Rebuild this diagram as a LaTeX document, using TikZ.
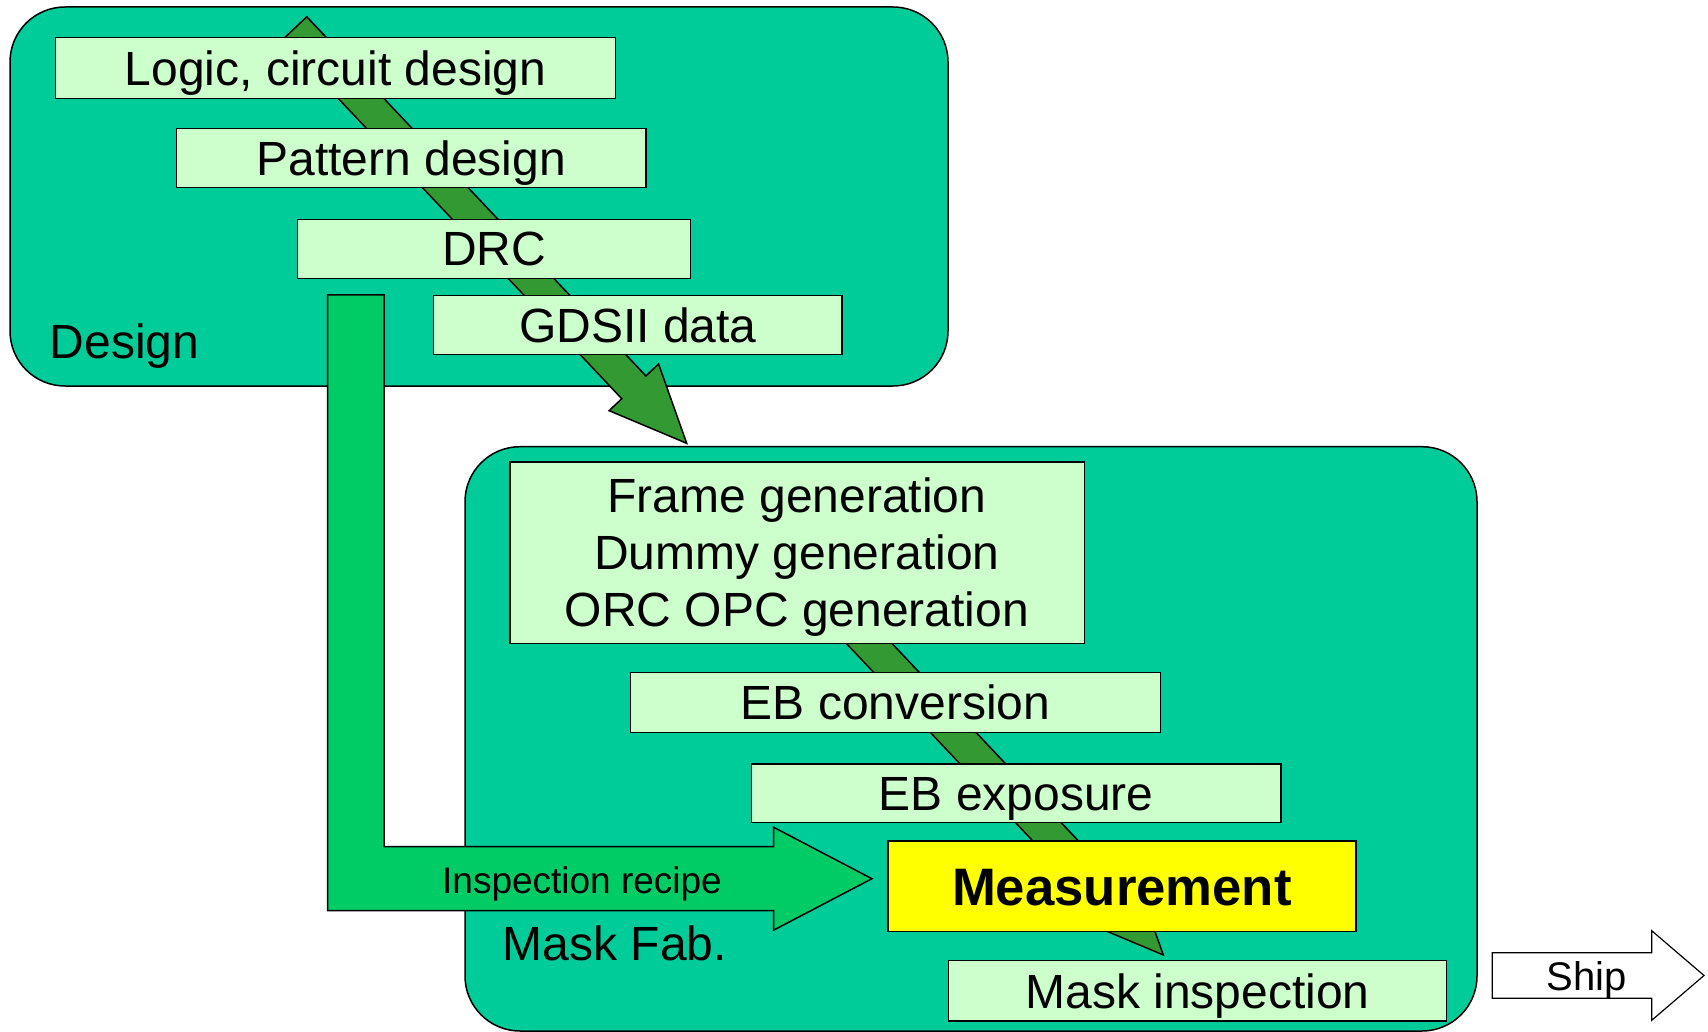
\documentclass[tikz,border=0pt]{standalone}
\usepackage{fontspec}
\setmainfont{Liberation Sans}
\usetikzlibrary{calc}
\definecolor{regionfill}{HTML}{00CC99}
\definecolor{lgreen}{HTML}{CCFFCC}
\definecolor{dgreen}{HTML}{339933}
\definecolor{mgreen}{HTML}{00CC66}
\definecolor{yel}{HTML}{FFFF00}
\newcommand{\fatarrow}[2]{%
  \coordinate (#1hb) at ($(#2)!77pt!(#1)$);
  \draw[flow] ($(#1)!16.6pt!90:(#2)$) -- ($(#1hb)!16.6pt!90:(#2)$) -- ($(#1hb)!34pt!90:(#2)$) -- (#2)
     -- ($(#1hb)!34pt!-90:(#2)$) -- ($(#1hb)!16.6pt!-90:(#2)$) -- ($(#1)!16.6pt!-90:(#2)$) -- cycle;}
\begin{document}
\begin{tikzpicture}[x=1pt,y=-1pt,
  region/.style={draw=black, line width=1.5pt, fill=regionfill, rounded corners=55pt, inner sep=0pt, outer sep=0pt},
  stepbox/.style={draw=black, line width=1.5pt, fill=lgreen, inner sep=0pt, outer sep=0pt,
     font=\fontsize{48}{57}\selectfont, text height=34.4pt, text depth=0pt},
  flow/.style={draw=black, line width=1.5pt, fill=dgreen, line join=miter},
  recipe/.style={draw=black, line width=1.5pt, fill=mgreen, line join=miter},
  bigtext/.style={font=\fontsize{48}{57}\selectfont, inner sep=0pt, anchor=base west}]
\useasboundingbox (0,0) rectangle (1708,1032);
% regions
\node[region, minimum width=938pt, minimum height=379pt] (design) at (479,196.5) {};
\node[region, minimum width=1012pt, minimum height=584.3pt] (maskfab) at (971,738.85) {};
% inspection recipe arrow
\coordinate (recstart) at (355.85,295);
\coordinate (rectip) at (871.9,878.7);
\draw[recipe] (327.7,295) -- (384,295) -- (384,846.7) -- (773.5,846.7) -- (773.5,827.2)
   -- (rectip) -- (773.5,930.2) -- (773.5,910.7) -- (327.7,910.7) -- cycle;
\node[font=\fontsize{37}{44}\selectfont, inner sep=0pt, text height=26.5pt, text depth=0pt] (rectext) at (582,879.8) {Inspection recipe};
% flow arrows
\coordinate (a1s) at (294.7,28.2);
\coordinate (a1e) at (686.7,443.3);
\coordinate (a2s) at (717.1,482.4);
\coordinate (a2e) at (1163.3,955);
\fatarrow{a1s}{a1e}
\fatarrow{a2s}{a2e}
% step boxes
\node[stepbox, minimum width=559.9pt, minimum height=60.6pt] (logic) at (335.5,68) {Logic, circuit design};
\node[stepbox, minimum width=469.5pt, minimum height=59.4pt] (pattern) at (411.3,158) {Pattern design};
\node[stepbox, minimum width=393.2pt, minimum height=59pt] (drc) at (494,248.8) {DRC};
\node[stepbox, minimum width=408.5pt, minimum height=59pt] (gdsii) at (637.8,324.8) {GDSII data};
\node[stepbox, minimum width=574.5pt, minimum height=181.4pt] (frame) at (797,552.6) {};
\node[font=\fontsize{48}{57}\selectfont, inner sep=0pt, align=center] (frametext) at ($(frame.center)+(0,4.6)$) {Frame generation\\Dummy generation\\ORC OPC generation};
\node[stepbox, minimum width=530pt, minimum height=59.6pt] (ebconv) at (895.7,702.5) {EB conversion};
\node[stepbox, minimum width=529.4pt, minimum height=58.7pt] (ebexp) at (1016.3,793.3) {EB exposure};
\node[stepbox, fill=yel, minimum width=468.2pt, minimum height=90.7pt, font=\fontsize{52.7}{60}\selectfont\bfseries, text height=37.7pt] (meas) at (1121.9,886.3) {Measurement};
\node[stepbox, minimum width=497.9pt, minimum height=60.3pt] (maskinsp) at (1197.5,990.8) {Mask inspection};
% region labels
\node[bigtext] (designlbl) at (49.5,358.3) {Design};
\node[bigtext] (masklbl) at (502.5,960) {Mask Fab.};
% ship arrow
\coordinate (shiptip) at (1704,975.5);
\draw[draw=black, line width=1.2pt, fill=white, line join=miter] (1492.3,952.7) -- (1651.7,952.7) -- (1651.7,930.7)
   -- (shiptip) -- (1651.7,1020.3) -- (1651.7,998.3) -- (1492.3,998.3) -- cycle;
\node[font=\fontsize{40}{48}\selectfont, inner sep=0pt, text height=28.6pt, text depth=0pt] (ship) at (1587,975.8) {Ship};
\end{tikzpicture}
\end{document}
